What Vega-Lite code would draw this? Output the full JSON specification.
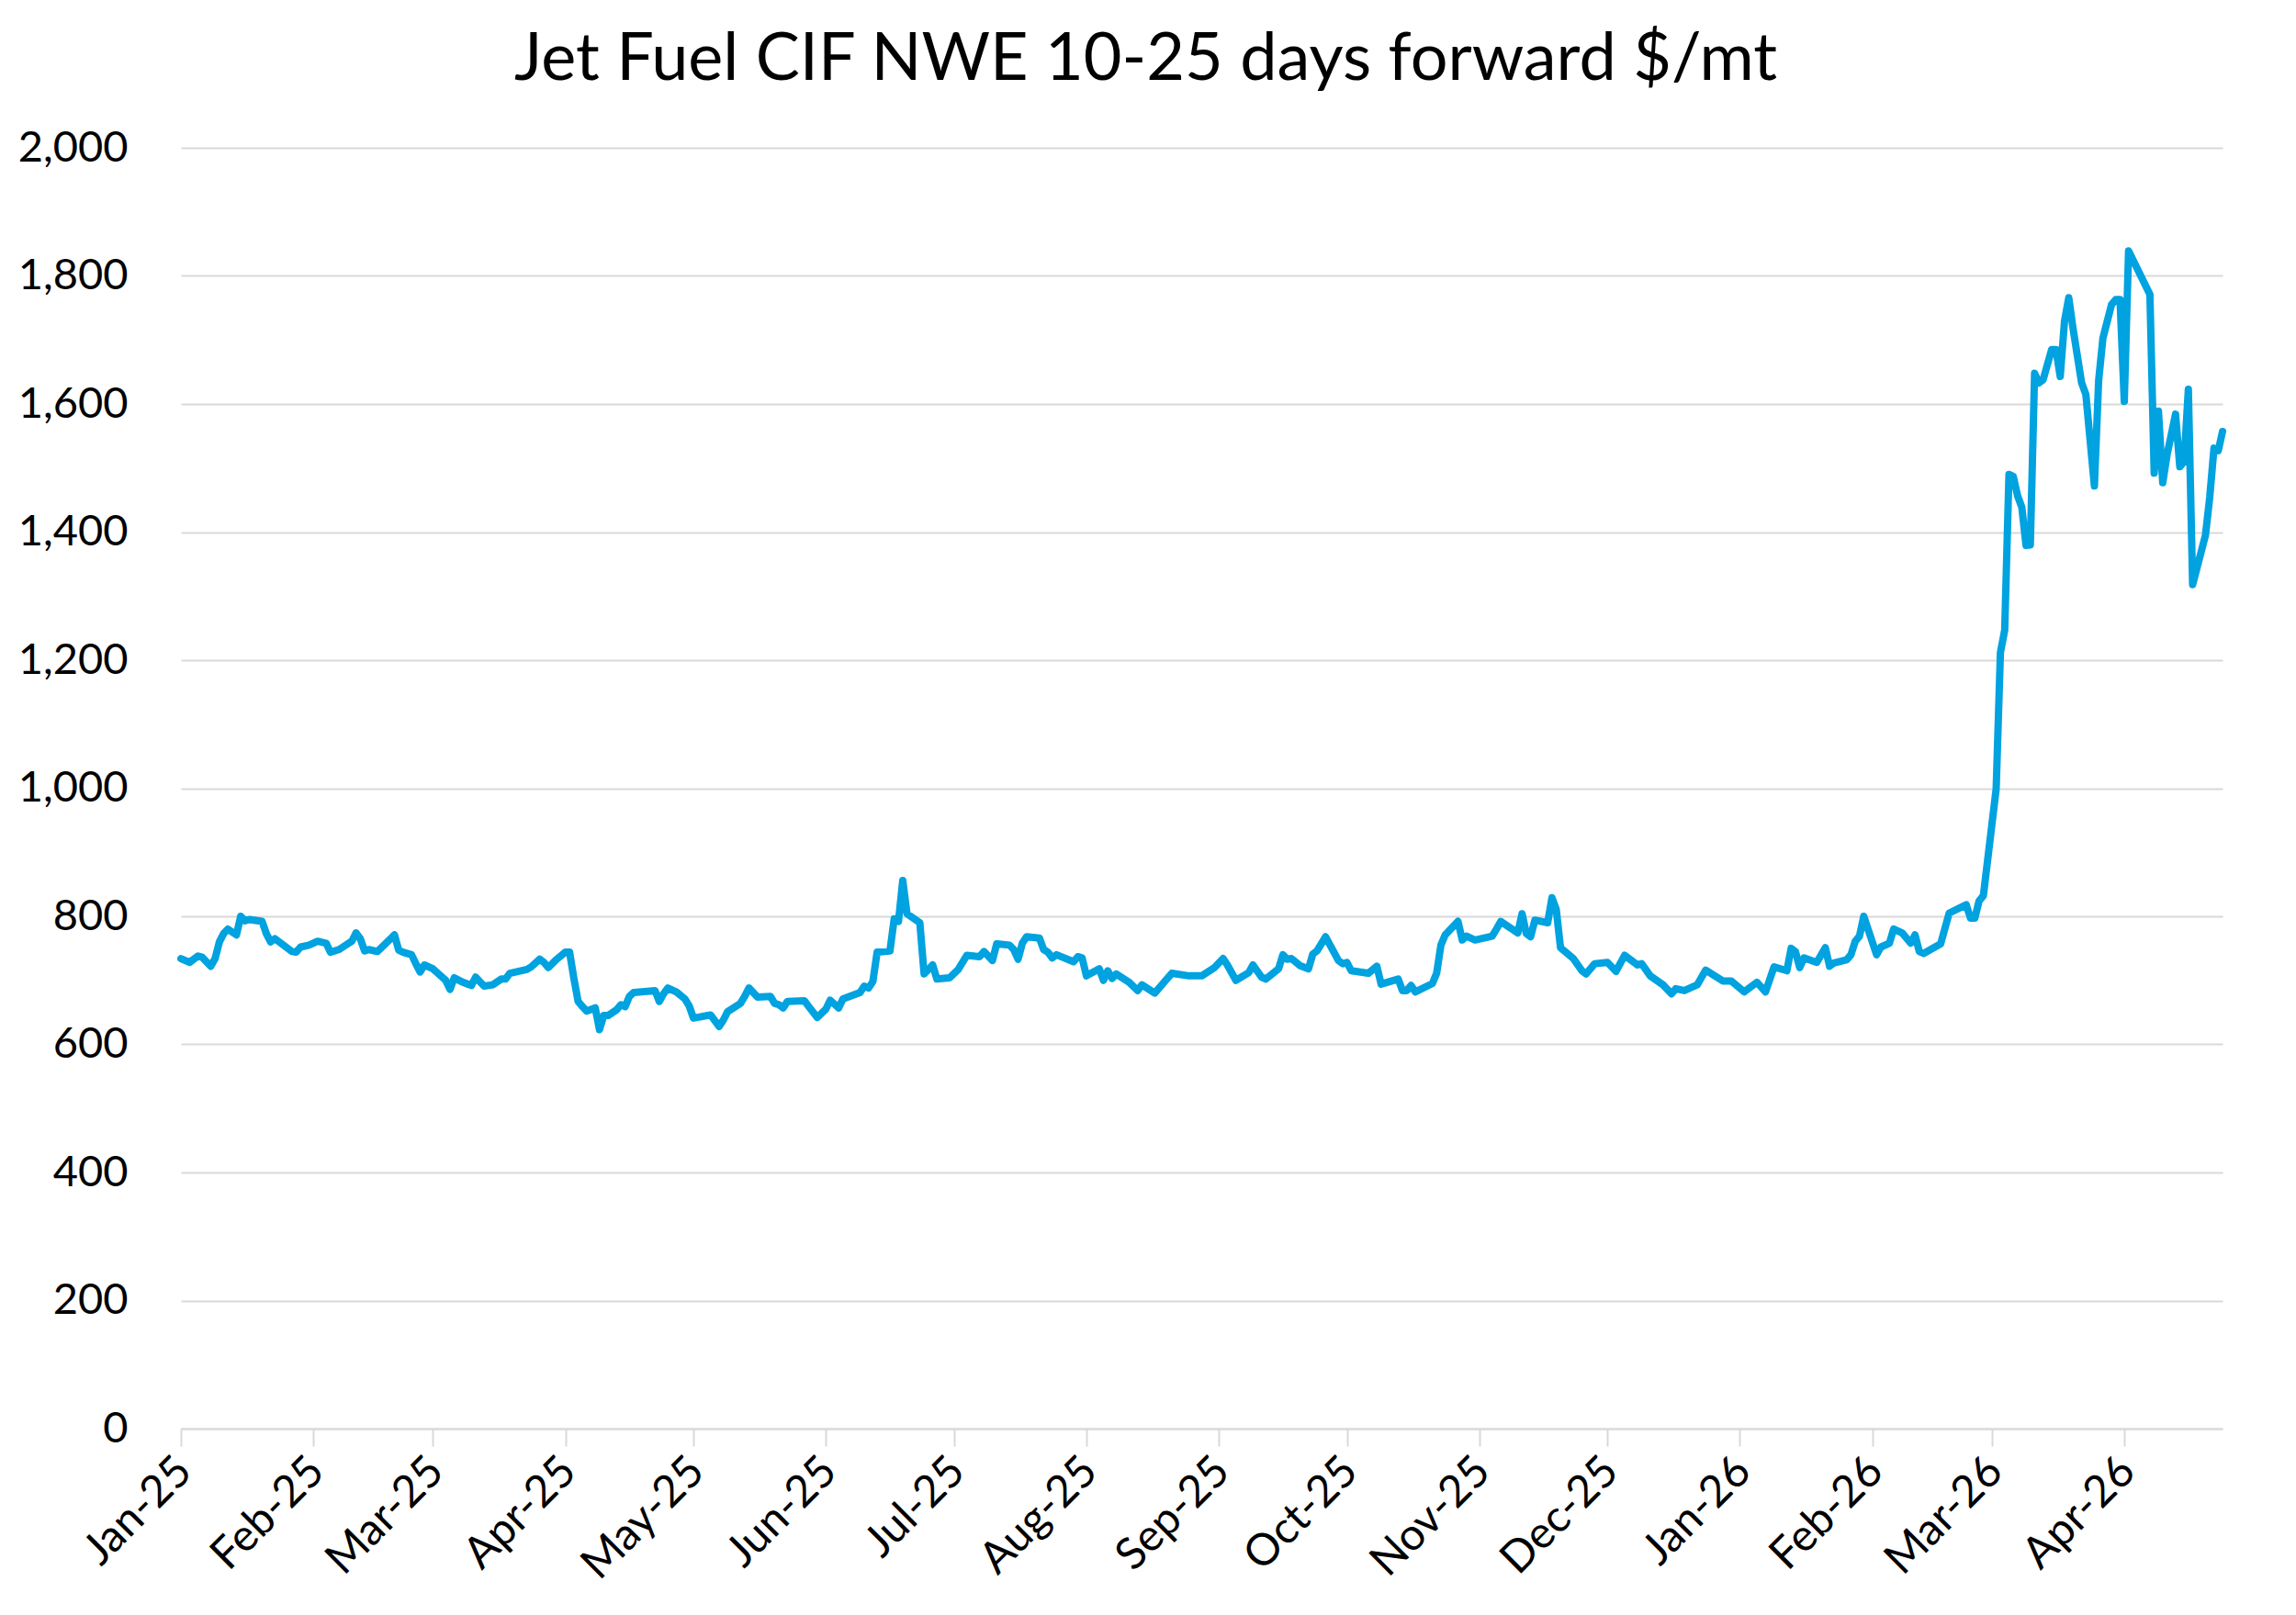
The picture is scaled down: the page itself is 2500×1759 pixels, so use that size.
{
  "$schema": "https://vega.github.io/schema/vega-lite/v6.json",
  "width": 2223,
  "height": 1395,
  "autosize": {"type": "none"},
  "padding": {"left": 197, "top": 161, "right": 80, "bottom": 203},
  "background": "white",
  "config": {"font": "Lato", "view": {"stroke": null}},
  "title": {
    "text": "Jet Fuel CIF NWE 10-25 days forward $/mt",
    "fontSize": 72,
    "font": "Lato",
    "fontWeight": "normal",
    "color": "#000000",
    "anchor": "middle",
    "frame": "group",
    "dx": -61,
    "baseline": "alphabetic",
    "offset": -22
  },
  "data": {
    "values": [
      {"date": "2025-01-01", "price": 734},
      {"date": "2025-01-03", "price": 728},
      {"date": "2025-01-05", "price": 738},
      {"date": "2025-01-06", "price": 736},
      {"date": "2025-01-08", "price": 722},
      {"date": "2025-01-09", "price": 734},
      {"date": "2025-01-10", "price": 760},
      {"date": "2025-01-11", "price": 773},
      {"date": "2025-01-12", "price": 780},
      {"date": "2025-01-14", "price": 771},
      {"date": "2025-01-15", "price": 800},
      {"date": "2025-01-16", "price": 793},
      {"date": "2025-01-17", "price": 795},
      {"date": "2025-01-20", "price": 792},
      {"date": "2025-01-21", "price": 773},
      {"date": "2025-01-22", "price": 760},
      {"date": "2025-01-23", "price": 765},
      {"date": "2025-01-25", "price": 755},
      {"date": "2025-01-27", "price": 745},
      {"date": "2025-01-28", "price": 744},
      {"date": "2025-01-29", "price": 752},
      {"date": "2025-01-31", "price": 755},
      {"date": "2025-02-02", "price": 761},
      {"date": "2025-02-04", "price": 758},
      {"date": "2025-02-05", "price": 744},
      {"date": "2025-02-07", "price": 748},
      {"date": "2025-02-10", "price": 761},
      {"date": "2025-02-11", "price": 774},
      {"date": "2025-02-12", "price": 765},
      {"date": "2025-02-13", "price": 746},
      {"date": "2025-02-14", "price": 748},
      {"date": "2025-02-16", "price": 745},
      {"date": "2025-02-18", "price": 758},
      {"date": "2025-02-20", "price": 771},
      {"date": "2025-02-21", "price": 747},
      {"date": "2025-02-22", "price": 744},
      {"date": "2025-02-24", "price": 740},
      {"date": "2025-02-25", "price": 726},
      {"date": "2025-02-26", "price": 713},
      {"date": "2025-02-27", "price": 724},
      {"date": "2025-03-01", "price": 718},
      {"date": "2025-03-02", "price": 712},
      {"date": "2025-03-04", "price": 700},
      {"date": "2025-03-05", "price": 686},
      {"date": "2025-03-06", "price": 704},
      {"date": "2025-03-08", "price": 697},
      {"date": "2025-03-10", "price": 692},
      {"date": "2025-03-11", "price": 705},
      {"date": "2025-03-12", "price": 698},
      {"date": "2025-03-13", "price": 691},
      {"date": "2025-03-15", "price": 693},
      {"date": "2025-03-17", "price": 702},
      {"date": "2025-03-18", "price": 702},
      {"date": "2025-03-19", "price": 711},
      {"date": "2025-03-23", "price": 717},
      {"date": "2025-03-24", "price": 721},
      {"date": "2025-03-26", "price": 733},
      {"date": "2025-03-27", "price": 728},
      {"date": "2025-03-28", "price": 720},
      {"date": "2025-03-30", "price": 733},
      {"date": "2025-04-01", "price": 744},
      {"date": "2025-04-02", "price": 744},
      {"date": "2025-04-03", "price": 703},
      {"date": "2025-04-04", "price": 667},
      {"date": "2025-04-05", "price": 659},
      {"date": "2025-04-06", "price": 652},
      {"date": "2025-04-08", "price": 657},
      {"date": "2025-04-09", "price": 623},
      {"date": "2025-04-10", "price": 645},
      {"date": "2025-04-11", "price": 645},
      {"date": "2025-04-13", "price": 654},
      {"date": "2025-04-14", "price": 662},
      {"date": "2025-04-15", "price": 659},
      {"date": "2025-04-16", "price": 675},
      {"date": "2025-04-17", "price": 681},
      {"date": "2025-04-22", "price": 684},
      {"date": "2025-04-23", "price": 667},
      {"date": "2025-04-24", "price": 679},
      {"date": "2025-04-25", "price": 688},
      {"date": "2025-04-27", "price": 682},
      {"date": "2025-04-29", "price": 671},
      {"date": "2025-04-30", "price": 660},
      {"date": "2025-05-01", "price": 641},
      {"date": "2025-05-05", "price": 646},
      {"date": "2025-05-07", "price": 628},
      {"date": "2025-05-08", "price": 638},
      {"date": "2025-05-09", "price": 651},
      {"date": "2025-05-12", "price": 664},
      {"date": "2025-05-13", "price": 675},
      {"date": "2025-05-14", "price": 688},
      {"date": "2025-05-16", "price": 674},
      {"date": "2025-05-19", "price": 675},
      {"date": "2025-05-20", "price": 664},
      {"date": "2025-05-21", "price": 662},
      {"date": "2025-05-22", "price": 657},
      {"date": "2025-05-23", "price": 667},
      {"date": "2025-05-27", "price": 668},
      {"date": "2025-05-28", "price": 659},
      {"date": "2025-05-30", "price": 642},
      {"date": "2025-06-01", "price": 655},
      {"date": "2025-06-02", "price": 669},
      {"date": "2025-06-04", "price": 657},
      {"date": "2025-06-05", "price": 671},
      {"date": "2025-06-09", "price": 681},
      {"date": "2025-06-10", "price": 691},
      {"date": "2025-06-11", "price": 688},
      {"date": "2025-06-12", "price": 698},
      {"date": "2025-06-13", "price": 744},
      {"date": "2025-06-16", "price": 746},
      {"date": "2025-06-17", "price": 796},
      {"date": "2025-06-18", "price": 792},
      {"date": "2025-06-19", "price": 856},
      {"date": "2025-06-20", "price": 804},
      {"date": "2025-06-23", "price": 790},
      {"date": "2025-06-24", "price": 710},
      {"date": "2025-06-26", "price": 724},
      {"date": "2025-06-27", "price": 702},
      {"date": "2025-06-30", "price": 704},
      {"date": "2025-07-02", "price": 717},
      {"date": "2025-07-04", "price": 739},
      {"date": "2025-07-07", "price": 737},
      {"date": "2025-07-08", "price": 745},
      {"date": "2025-07-10", "price": 731},
      {"date": "2025-07-11", "price": 757},
      {"date": "2025-07-14", "price": 755},
      {"date": "2025-07-15", "price": 748},
      {"date": "2025-07-16", "price": 733},
      {"date": "2025-07-17", "price": 758},
      {"date": "2025-07-18", "price": 768},
      {"date": "2025-07-21", "price": 766},
      {"date": "2025-07-22", "price": 748},
      {"date": "2025-07-23", "price": 744},
      {"date": "2025-07-24", "price": 735},
      {"date": "2025-07-25", "price": 740},
      {"date": "2025-07-29", "price": 729},
      {"date": "2025-07-30", "price": 737},
      {"date": "2025-07-31", "price": 735},
      {"date": "2025-08-01", "price": 707},
      {"date": "2025-08-04", "price": 718},
      {"date": "2025-08-05", "price": 700},
      {"date": "2025-08-06", "price": 715},
      {"date": "2025-08-07", "price": 703},
      {"date": "2025-08-08", "price": 710},
      {"date": "2025-08-11", "price": 697},
      {"date": "2025-08-13", "price": 684},
      {"date": "2025-08-14", "price": 693},
      {"date": "2025-08-17", "price": 680},
      {"date": "2025-08-21", "price": 711},
      {"date": "2025-08-25", "price": 707},
      {"date": "2025-08-28", "price": 707},
      {"date": "2025-08-31", "price": 720},
      {"date": "2025-09-02", "price": 734},
      {"date": "2025-09-03", "price": 724},
      {"date": "2025-09-05", "price": 700},
      {"date": "2025-09-08", "price": 712},
      {"date": "2025-09-09", "price": 724},
      {"date": "2025-09-11", "price": 705},
      {"date": "2025-09-12", "price": 702},
      {"date": "2025-09-15", "price": 718},
      {"date": "2025-09-16", "price": 740},
      {"date": "2025-09-17", "price": 733},
      {"date": "2025-09-18", "price": 734},
      {"date": "2025-09-20", "price": 723},
      {"date": "2025-09-22", "price": 718},
      {"date": "2025-09-23", "price": 741},
      {"date": "2025-09-24", "price": 746},
      {"date": "2025-09-26", "price": 768},
      {"date": "2025-09-29", "price": 731},
      {"date": "2025-09-30", "price": 726},
      {"date": "2025-10-01", "price": 728},
      {"date": "2025-10-02", "price": 715},
      {"date": "2025-10-06", "price": 711},
      {"date": "2025-10-08", "price": 722},
      {"date": "2025-10-09", "price": 694},
      {"date": "2025-10-13", "price": 702},
      {"date": "2025-10-14", "price": 684},
      {"date": "2025-10-15", "price": 684},
      {"date": "2025-10-16", "price": 692},
      {"date": "2025-10-17", "price": 682},
      {"date": "2025-10-21", "price": 695},
      {"date": "2025-10-22", "price": 711},
      {"date": "2025-10-23", "price": 755},
      {"date": "2025-10-24", "price": 771},
      {"date": "2025-10-27", "price": 792},
      {"date": "2025-10-28", "price": 763},
      {"date": "2025-10-29", "price": 769},
      {"date": "2025-10-31", "price": 763},
      {"date": "2025-11-04", "price": 769},
      {"date": "2025-11-05", "price": 780},
      {"date": "2025-11-06", "price": 792},
      {"date": "2025-11-10", "price": 774},
      {"date": "2025-11-11", "price": 804},
      {"date": "2025-11-12", "price": 773},
      {"date": "2025-11-13", "price": 768},
      {"date": "2025-11-14", "price": 794},
      {"date": "2025-11-17", "price": 790},
      {"date": "2025-11-18", "price": 829},
      {"date": "2025-11-19", "price": 811},
      {"date": "2025-11-20", "price": 751},
      {"date": "2025-11-23", "price": 734},
      {"date": "2025-11-25", "price": 715},
      {"date": "2025-11-26", "price": 710},
      {"date": "2025-11-28", "price": 726},
      {"date": "2025-12-01", "price": 728},
      {"date": "2025-12-03", "price": 714},
      {"date": "2025-12-05", "price": 739},
      {"date": "2025-12-08", "price": 724},
      {"date": "2025-12-09", "price": 726},
      {"date": "2025-12-11", "price": 707},
      {"date": "2025-12-14", "price": 693},
      {"date": "2025-12-16", "price": 679},
      {"date": "2025-12-17", "price": 687},
      {"date": "2025-12-19", "price": 684},
      {"date": "2025-12-22", "price": 693},
      {"date": "2025-12-24", "price": 716},
      {"date": "2025-12-28", "price": 699},
      {"date": "2025-12-30", "price": 699},
      {"date": "2026-01-02", "price": 682},
      {"date": "2026-01-05", "price": 697},
      {"date": "2026-01-07", "price": 682},
      {"date": "2026-01-09", "price": 721},
      {"date": "2026-01-12", "price": 715},
      {"date": "2026-01-13", "price": 750},
      {"date": "2026-01-14", "price": 745},
      {"date": "2026-01-15", "price": 720},
      {"date": "2026-01-16", "price": 735},
      {"date": "2026-01-19", "price": 728},
      {"date": "2026-01-21", "price": 751},
      {"date": "2026-01-22", "price": 722},
      {"date": "2026-01-23", "price": 727},
      {"date": "2026-01-26", "price": 732},
      {"date": "2026-01-27", "price": 740},
      {"date": "2026-01-28", "price": 761},
      {"date": "2026-01-29", "price": 769},
      {"date": "2026-01-30", "price": 800},
      {"date": "2026-02-02", "price": 740},
      {"date": "2026-02-03", "price": 752},
      {"date": "2026-02-05", "price": 758},
      {"date": "2026-02-06", "price": 780},
      {"date": "2026-02-08", "price": 774},
      {"date": "2026-02-10", "price": 758},
      {"date": "2026-02-11", "price": 771},
      {"date": "2026-02-12", "price": 745},
      {"date": "2026-02-13", "price": 742},
      {"date": "2026-02-17", "price": 757},
      {"date": "2026-02-19", "price": 805},
      {"date": "2026-02-23", "price": 818},
      {"date": "2026-02-24", "price": 797},
      {"date": "2026-02-25", "price": 797},
      {"date": "2026-02-26", "price": 824},
      {"date": "2026-02-27", "price": 832},
      {"date": "2026-03-02", "price": 999},
      {"date": "2026-03-03", "price": 1212},
      {"date": "2026-03-04", "price": 1247},
      {"date": "2026-03-05", "price": 1490},
      {"date": "2026-03-06", "price": 1487},
      {"date": "2026-03-07", "price": 1457},
      {"date": "2026-03-08", "price": 1439},
      {"date": "2026-03-09", "price": 1379},
      {"date": "2026-03-10", "price": 1380},
      {"date": "2026-03-11", "price": 1648},
      {"date": "2026-03-12", "price": 1633},
      {"date": "2026-03-13", "price": 1638},
      {"date": "2026-03-15", "price": 1685},
      {"date": "2026-03-16", "price": 1685},
      {"date": "2026-03-17", "price": 1643},
      {"date": "2026-03-18", "price": 1729},
      {"date": "2026-03-19", "price": 1766},
      {"date": "2026-03-20", "price": 1718},
      {"date": "2026-03-22", "price": 1633},
      {"date": "2026-03-23", "price": 1615},
      {"date": "2026-03-25", "price": 1472},
      {"date": "2026-03-26", "price": 1637},
      {"date": "2026-03-27", "price": 1703},
      {"date": "2026-03-29", "price": 1755},
      {"date": "2026-03-30", "price": 1763},
      {"date": "2026-03-31", "price": 1763},
      {"date": "2026-04-01", "price": 1604},
      {"date": "2026-04-02", "price": 1839},
      {"date": "2026-04-07", "price": 1771},
      {"date": "2026-04-08", "price": 1492},
      {"date": "2026-04-09", "price": 1589},
      {"date": "2026-04-10", "price": 1477},
      {"date": "2026-04-11", "price": 1520},
      {"date": "2026-04-13", "price": 1584},
      {"date": "2026-04-14", "price": 1502},
      {"date": "2026-04-15", "price": 1510},
      {"date": "2026-04-16", "price": 1623},
      {"date": "2026-04-17", "price": 1318},
      {"date": "2026-04-20", "price": 1395},
      {"date": "2026-04-21", "price": 1454},
      {"date": "2026-04-22", "price": 1531},
      {"date": "2026-04-23", "price": 1527},
      {"date": "2026-04-24", "price": 1557}
    ]
  },
  "mark": {
    "type": "line",
    "color": "#00A2DF",
    "strokeWidth": 8,
    "strokeJoin": "round",
    "strokeCap": "round"
  },
  "encoding": {
    "x": {
      "field": "date",
      "type": "temporal",
      "scale": {
        "type": "utc",
        "domain": [
          {"year": 2025, "month": 1, "date": 1, "utc": true},
          {"year": 2026, "month": 4, "date": 24, "utc": true}
        ],
        "nice": false
      },
      "axis": {
        "title": null,
        "format": "%b-%y",
        "values": [
          {"year": 2025, "month": 1, "date": 1, "utc": true},
          {"year": 2025, "month": 2, "date": 1, "utc": true},
          {"year": 2025, "month": 3, "date": 1, "utc": true},
          {"year": 2025, "month": 4, "date": 1, "utc": true},
          {"year": 2025, "month": 5, "date": 1, "utc": true},
          {"year": 2025, "month": 6, "date": 1, "utc": true},
          {"year": 2025, "month": 7, "date": 1, "utc": true},
          {"year": 2025, "month": 8, "date": 1, "utc": true},
          {"year": 2025, "month": 9, "date": 1, "utc": true},
          {"year": 2025, "month": 10, "date": 1, "utc": true},
          {"year": 2025, "month": 11, "date": 1, "utc": true},
          {"year": 2025, "month": 12, "date": 1, "utc": true},
          {"year": 2026, "month": 1, "date": 1, "utc": true},
          {"year": 2026, "month": 2, "date": 1, "utc": true},
          {"year": 2026, "month": 3, "date": 1, "utc": true},
          {"year": 2026, "month": 4, "date": 1, "utc": true}
        ],
        "grid": false,
        "domain": true,
        "domainColor": "#d9d9d9",
        "domainWidth": 2,
        "ticks": true,
        "tickColor": "#d9d9d9",
        "tickWidth": 2,
        "tickSize": 19,
        "labelAngle": -45,
        "labelAlign": "right",
        "labelBaseline": "middle",
        "labelPadding": 20,
        "labelOffset": 4,
        "labelFont": "Lato",
        "labelFontSize": 48,
        "labelColor": "#000000",
        "labelOverlap": false,
        "labelFlush": false,
        "labelLimit": 0
      }
    },
    "y": {
      "field": "price",
      "type": "quantitative",
      "scale": {"domain": [0, 2000], "nice": false, "zero": true},
      "axis": {
        "title": null,
        "values": [0, 200, 400, 600, 800, 1000, 1200, 1400, 1600, 1800, 2000],
        "format": ",d",
        "grid": true,
        "gridColor": "#d9d9d9",
        "gridWidth": 2,
        "domain": false,
        "ticks": false,
        "tickSize": 0,
        "labelPadding": 58,
        "labelFont": "Lato",
        "labelFontSize": 47,
        "labelColor": "#000000",
        "labelFlush": false,
        "labelOverlap": false
      }
    }
  }
}
